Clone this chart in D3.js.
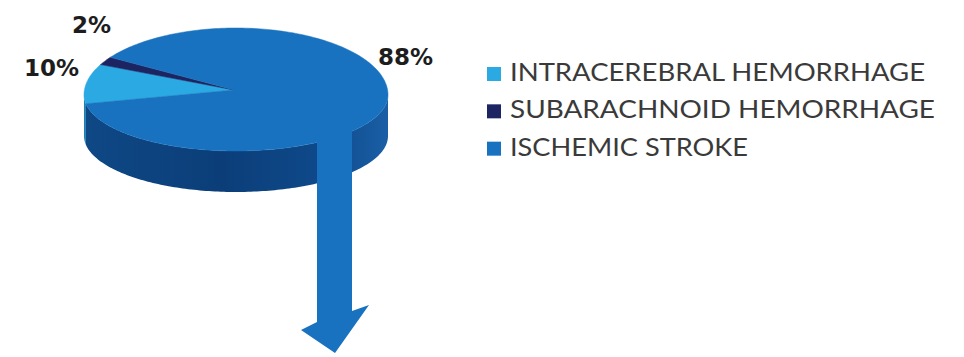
<!DOCTYPE html>
<html>
<head>
<meta charset="utf-8">
<script src="https://cdn.jsdelivr.net/npm/d3@7"></script>
<style>
  body { margin: 0; background: #fff; }
  svg { display: block; }
</style>
</head>
<body>
<div id="canvas"></div>
<script>
// chart data
let categories = ["INTRACEREBRAL HEMORRHAGE", "SUBARACHNOID HEMORRHAGE", "ISCHEMIC STROKE"]
let values = [10, 2, 88]
let valueLabels = ["10%", "2%", "88%"]
let topColors = ["#2aa9e2", "#1c2461", "#1872bf"]
let sideColors = ["#1b7fb5", "#141a4a", "url(#sideGrad)"]

window.onload = function () { setup() }

function setup () {

  let width = 964, height = 357
  let cx = 236, cy = 95, rx = 152, ryTop = 67, ryBot = 56, depth = 41

  let svg = d3.select("#canvas")
    .append("svg")
    .attr("width", width)
    .attr("height", height)

  let grad = svg.append("defs").append("linearGradient")
    .attr("id", "sideGrad")
    .attr("x1", "0%").attr("x2", "100%").attr("y1", "0%").attr("y2", "0%")
  grad.append("stop").attr("offset", "0%").attr("stop-color", "#0e4885")
  grad.append("stop").attr("offset", "45%").attr("stop-color", "#0b3e79")
  grad.append("stop").attr("offset", "80%").attr("stop-color", "#0f4a8b")
  grad.append("stop").attr("offset", "100%").attr("stop-color", "#1a5fa6")

  // project an angle (d3 convention, clockwise from 12 o'clock) onto the tilted disc
  function project (a, dy) {
    let s = Math.sin(a), c = Math.cos(a)
    let ry = c > 0 ? ryTop : ryBot
    return [cx + rx * s, cy - ry * c + (dy || 0)]
  }

  function sampleArc (a0, a1, dy) {
    let n = Math.max(2, Math.ceil(Math.abs(a1 - a0) / 0.02))
    return d3.range(n + 1).map(i => project(a0 + (a1 - a0) * i / n, dy))
  }

  let line = d3.line()

  let startDeg = 261
  let pie = d3.pie()
    .sort(null)
    .value(d => d)
    .startAngle(startDeg * Math.PI / 180)
    .endAngle(startDeg * Math.PI / 180 + 2 * Math.PI)

  let arcs = pie(values)

  // side walls (front half only: angles between 90 and 270 deg, including wrapped)
  function sidePath (d) {
    let pieces = []
    let ranges = [[Math.PI / 2, 3 * Math.PI / 2], [Math.PI / 2 + 2 * Math.PI, 3 * Math.PI / 2 + 2 * Math.PI]]
    ranges.forEach(r => {
      let a0 = Math.max(d.startAngle, r[0])
      let a1 = Math.min(d.endAngle, r[1])
      if (a1 > a0) {
        let topEdge = sampleArc(a0, a1, 0)
        let botEdge = sampleArc(a1, a0, depth)
        pieces.push(line(topEdge.concat(botEdge)) + "Z")
      }
    })
    return pieces.join(" ")
  }

  svg.append("g")
    .selectAll("path")
    .data(arcs)
    .join("path")
    .attr("d", d => sidePath(d))
    .attr("fill", (d, i) => sideColors[i])

  // arrow coming down out of the big slice
  let shaftL = 317, shaftR = 352
  let arrow = [
    [shaftL, cy + 20], [shaftR, cy + 20],
    [shaftR, 311], [369, 305],
    [335, 353],
    [301, 330], [shaftL, 322]
  ]
  svg.append("path")
    .attr("d", line(arrow) + "Z")
    .attr("fill", topColors[2])

  // top faces
  svg.append("g")
    .selectAll("path")
    .data(arcs)
    .join("path")
    .attr("d", d => line([[cx - 2, cy - 5]].concat(sampleArc(d.startAngle, d.endAngle, 0))) + "Z")
    .attr("fill", (d, i) => topColors[i])
    .attr("stroke", (d, i) => topColors[i])
    .attr("stroke-width", 0.5)

  // value labels
  let labelPos = [[24, 76], [72, 33], [378, 65]]
  svg.append("g")
    .selectAll("text")
    .data(valueLabels)
    .join("text")
    .attr("x", (d, i) => labelPos[i][0])
    .attr("y", (d, i) => labelPos[i][1])
    .attr("font-family", "DejaVu Sans")
    .attr("font-weight", "bold")
    .attr("font-size", 23)
    .attr("fill", "#1d1d1d")
    .text(d => d)

  // legend
  let legendY = d3.scaleBand()
    .domain(categories)
    .range([62, 174])
  let legendWidths = [415, 425, 238]

  let legend = svg.append("g")
    .selectAll("g")
    .data(categories)
    .join("g")
    .attr("transform", d => "translate(487," + legendY(d) + ")")

  legend.append("rect")
    .attr("x", 0)
    .attr("y", 5)
    .attr("width", 14)
    .attr("height", 14)
    .attr("fill", (d, i) => topColors[i])

  legend.append("text")
    .attr("x", 23)
    .attr("y", 19)
    .attr("font-family", "Lato")
    .attr("font-weight", 400)
    .attr("font-size", 25)
    .attr("fill", "#3a3a3a")
    .attr("textLength", (d, i) => legendWidths[i])
    .attr("lengthAdjust", "spacingAndGlyphs")
    .text(d => d)
}
</script>
</body>
</html>
